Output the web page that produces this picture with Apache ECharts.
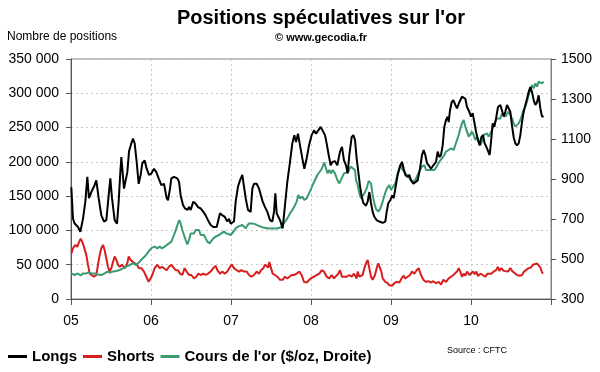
<!DOCTYPE html>
<html><head><meta charset="utf-8">
<script src="https://cdn.jsdelivr.net/npm/echarts@6/dist/echarts.min.js"></script>
<style>html,body{margin:0;padding:0;background:#fff}#c{width:600px;height:372px}</style>
</head><body><div id="c"></div>
<script>
// x = months since January 2005; left values in thousands of positions; gold in $/oz
const yearLabels = ['05','06','07','08','09','10'];
const leftTicks = [0,50,100,150,200,250,300,350];
const rightTicks = [300,500,700,900,1100,1300,1500];

const longs = [[0.05,163],[0.3,117],[0.55,110],[1.05,105],[1.4,98],[1.8,117],[2.15,142],[2.45,178],[2.7,147],[3.05,156],[3.45,164],[3.8,173],[4.15,147],[4.55,122],[4.95,113],[5.3,115],[5.65,151],[5.9,176],[6.15,147],[6.55,115],[6.9,110],[7.15,142],[7.4,185],[7.55,207],[7.8,205],[7.95,161],[8.2,159],[8.45,185],[8.7,215],[9.05,227],[9.3,234],[9.55,227],[9.85,200],[10.15,168],[10.45,181],[10.7,198],[11.05,202],[11.35,190],[11.7,181],[12.05,183],[12.45,190],[12.8,185],[13.15,176],[13.55,166],[13.95,168],[14.35,147],[14.55,144],[14.85,161],[15.05,176],[15.45,178],[15.95,176],[16.2,171],[16.45,151],[16.8,137],[17.1,132],[17.45,130],[17.7,134],[17.95,130],[18.35,142],[18.7,139],[19.05,134],[19.45,132],[19.85,127],[20.2,122],[20.55,115],[20.95,108],[21.35,105],[21.85,105],[22.1,115],[22.35,125],[22.7,122],[23.05,120],[23.45,113],[23.7,117],[23.95,110],[24.2,108],[24.45,113],[24.7,142],[25.05,164],[25.35,173],[25.7,181],[25.95,164],[26.2,147],[26.55,130],[26.95,127],[27.2,161],[27.45,168],[27.85,168],[28.2,161],[28.75,142],[29.1,134],[29.45,127],[29.85,115],[30.2,113],[30.45,127],[30.65,154],[30.85,125],[31.1,120],[31.35,115],[31.55,117],[31.75,103],[32.1,137],[32.45,171],[32.85,200],[33.2,227],[33.5,239],[33.75,229],[34.05,241],[34.35,224],[34.7,205],[35.0,190],[35.35,205],[35.7,224],[36.1,239],[36.45,246],[36.75,241],[37.1,246],[37.45,251],[37.75,249],[38.1,239],[38.35,227],[38.65,210],[38.95,195],[39.25,200],[39.6,201],[39.95,195],[40.35,215],[40.65,222],[40.95,202],[41.25,195],[41.5,183],[41.75,210],[42.1,236],[42.35,239],[42.6,232],[42.85,205],[43.1,185],[43.35,165],[43.6,150],[43.85,140],[44.25,136],[44.5,142],[44.75,156],[45.0,140],[45.25,127],[45.5,120],[45.85,115],[46.25,113],[46.75,111],[47.15,113],[47.35,127],[47.6,140],[47.9,144],[48.15,151],[48.4,147],[48.65,161],[49.0,181],[49.4,195],[49.65,200],[49.9,190],[50.15,181],[50.5,178],[50.75,181],[51.0,173],[51.35,168],[51.65,166],[52.0,173],[52.35,190],[52.65,210],[52.9,217],[53.15,210],[53.4,198],[53.65,195],[54.0,190],[54.35,195],[54.75,200],[55.0,215],[55.25,207],[55.5,210],[55.75,224],[56.0,251],[56.25,261],[56.5,266],[56.65,258],[56.85,275],[57.1,287],[57.35,290],[57.65,283],[57.9,278],[58.25,287],[58.65,295],[58.9,297],[59.15,292],[59.4,280],[59.75,273],[60.0,266],[60.25,271],[60.5,258],[60.75,244],[61.05,232],[61.3,224],[61.55,236],[61.8,239],[62.05,227],[62.3,222],[62.55,224],[62.8,210],[63.05,234],[63.25,256],[63.5,251],[63.75,263],[64.05,280],[64.4,283],[64.65,275],[64.9,266],[65.15,273],[65.4,283],[65.65,283],[65.9,273],[66.15,253],[66.4,236],[66.65,227],[66.9,224],[67.15,227],[67.4,239],[67.65,258],[67.9,273],[68.15,283],[68.4,292],[68.65,302],[68.9,309],[69.15,302],[69.4,290],[69.65,283],[69.9,287],[70.15,297],[70.4,278],[70.65,266],[70.9,266]];

const shorts = [[0.05,66.5],[0.3,74],[0.65,79],[0.95,76],[1.2,83],[1.45,88],[1.7,83],[1.95,76],[2.3,64],[2.55,50],[2.8,37],[3.05,35],[3.45,32.5],[3.8,35],[4.05,50],[4.3,64],[4.55,74],[4.8,79],[5.05,71],[5.3,59],[5.55,47],[5.8,40],[6.05,45],[6.3,54],[6.55,62],[6.8,57],[7.05,50],[7.3,47],[7.65,50],[8.05,45],[8.45,52],[8.65,62],[8.95,57],[9.3,54],[9.55,52],[9.9,50],[10.2,45],[10.55,45],[10.95,40],[11.3,32.5],[11.65,25],[11.9,25],[12.2,35],[12.55,45],[12.95,50],[13.3,45],[13.65,47],[13.95,45],[14.35,42],[14.7,47],[15.05,50],[15.35,46],[15.7,42],[16.05,42],[16.35,37],[16.7,35],[17.05,45],[17.35,40],[17.7,35],[18.05,35],[18.45,30],[18.8,32.5],[19.1,37],[19.45,35],[19.85,37],[20.2,35],[20.55,37],[20.95,40],[21.35,45],[21.7,48.5],[21.95,42],[22.35,37],[22.7,40],[23.05,37],[23.45,40],[23.75,42],[24.1,50.5],[24.45,45],[24.85,42],[25.2,40],[25.55,42],[25.95,40],[26.35,40],[26.7,35],[27.05,32.5],[27.45,35],[27.85,40],[28.2,37],[28.5,42],[28.85,45],[29.1,50],[29.35,52],[29.6,46],[29.75,54],[30.0,45],[30.25,37],[30.6,35],[30.95,32.5],[31.35,28],[31.75,28],[32.1,32.5],[32.45,30],[32.75,32.5],[33.1,35],[33.45,35],[33.85,37],[34.25,40],[34.6,35],[34.95,25],[35.35,24],[35.75,28],[36.1,31],[36.45,32.5],[36.85,35],[37.25,37],[37.6,42],[37.95,40],[38.35,32.5],[38.75,30],[39.1,35],[39.45,30],[39.75,32.5],[40.1,37],[40.35,42],[40.65,32.5],[40.95,35],[41.35,32.5],[41.75,35],[42.1,32.5],[42.45,37],[42.85,30],[43.0,40],[43.25,32.5],[43.5,30],[43.75,35],[44.0,45],[44.25,52],[44.5,57],[44.75,45],[45.0,32.5],[45.25,28],[45.6,35],[45.85,45],[46.1,52],[46.35,50.5],[46.55,40],[46.75,30],[47.15,25],[47.5,23],[47.75,20],[48.15,19.4],[48.5,23],[48.85,25],[49.25,24],[49.65,31],[49.9,34],[50.15,30],[50.5,32.5],[50.85,35],[51.15,40],[51.5,37],[51.85,42],[52.15,45],[52.5,35],[52.85,28],[53.25,25],[53.65,26],[54.0,24],[54.35,26],[54.75,23],[55.15,25],[55.5,21],[55.85,28],[56.25,25],[56.65,30],[57.0,32.5],[57.35,35],[57.65,37],[57.9,40],[58.15,45],[58.4,40],[58.65,32.5],[58.9,37],[59.15,34],[59.4,40],[59.75,35],[60.05,32.5],[60.3,40],[60.55,36],[60.8,40],[61.05,33.5],[61.4,37],[61.75,35],[62.15,32.5],[62.45,37],[62.75,35],[63.05,37],[63.4,40],[63.75,42],[64.05,47],[64.25,41],[64.55,45],[64.9,41],[65.15,42],[65.55,40],[65.9,45],[66.25,40],[66.55,42],[66.9,35],[67.3,34],[67.65,35],[67.95,40],[68.25,42],[68.65,45],[69.0,46],[69.3,50],[69.55,48.5],[69.9,52],[70.15,50.5],[70.4,46],[70.65,39],[70.8,37]];

const gold = [[0.05,428],[0.55,420],[1.05,428],[1.45,417],[1.8,428],[2.3,428],[2.65,433],[3.05,428],[3.55,428],[4.05,423],[4.55,420],[5.05,428],[5.45,437],[5.8,432],[6.3,437],[6.8,440],[7.3,445],[7.8,453],[8.3,462],[8.8,470],[9.3,478],[9.8,470],[10.3,487],[10.65,500],[11.05,512],[11.45,528],[11.8,545],[12.15,557],[12.55,562],[12.95,553],[13.3,562],[13.65,553],[14.05,562],[14.35,562],[14.7,578],[15.05,587],[15.45,620],[15.8,653],[16.05,678],[16.25,695],[16.45,678],[16.7,645],[16.95,620],[17.2,595],[17.45,573],[17.7,595],[17.95,628],[18.2,637],[18.45,628],[18.7,645],[18.95,637],[19.2,645],[19.45,620],[19.7,612],[19.95,620],[20.2,603],[20.45,587],[20.8,578],[21.1,587],[21.35,603],[21.7,612],[21.95,607],[22.2,620],[22.55,628],[22.95,637],[23.3,628],[23.6,637],[23.95,620],[24.2,628],[24.45,640],[24.7,653],[25.05,662],[25.35,653],[25.7,670],[25.95,662],[26.2,653],[26.45,667],[26.7,678],[26.95,687],[27.2,678],[27.45,670],[27.7,673],[28.05,667],[28.45,662],[28.85,657],[29.1,667],[29.6,653],[29.85,650],[30.2,653],[30.5,662],[30.85,653],[31.1,662],[31.45,657],[31.75,662],[32.1,687],[32.45,703],[32.85,728],[33.2,745],[33.5,762],[33.85,787],[34.1,820],[34.35,803],[34.7,812],[35.0,795],[35.35,803],[35.7,828],[35.95,845],[36.25,870],[36.6,895],[36.95,920],[37.25,920],[37.5,945],[37.75,962],[38.0,983],[38.25,953],[38.5,928],[38.75,945],[39.0,928],[39.25,945],[39.6,928],[39.95,895],[40.25,878],[40.6,903],[40.95,928],[41.25,920],[41.6,937],[41.95,962],[42.25,970],[42.6,945],[42.75,895],[43.0,870],[43.25,828],[43.5,803],[43.75,812],[44.0,828],[44.35,853],[44.65,890],[45.0,878],[45.25,820],[45.5,778],[45.75,750],[46.1,737],[46.4,753],[46.75,787],[47.1,828],[47.4,853],[47.75,870],[48.0,845],[48.25,853],[48.65,878],[49.0,928],[49.4,970],[49.75,945],[50.15,928],[50.5,917],[50.85,900],[51.25,887],[51.65,895],[52.0,920],[52.35,945],[52.65,962],[53.0,970],[53.25,945],[53.5,937],[53.85,945],[54.15,953],[54.5,945],[54.85,962],[55.25,987],[55.65,1003],[56.0,1020],[56.25,1037],[56.65,1045],[57.0,1053],[57.4,1045],[57.65,1070],[57.9,1095],[58.15,1120],[58.4,1153],[58.65,1178],[58.9,1195],[59.15,1162],[59.4,1137],[59.65,1112],[59.9,1120],[60.15,1137],[60.4,1120],[60.65,1095],[60.9,1112],[61.15,1087],[61.4,1070],[61.65,1087],[61.9,1120],[62.15,1112],[62.4,1128],[62.65,1112],[62.9,1128],[63.15,1145],[63.4,1170],[63.65,1187],[63.9,1203],[64.15,1212],[64.4,1203],[64.65,1228],[64.9,1220],[65.15,1212],[65.4,1220],[65.65,1237],[65.9,1228],[66.15,1203],[66.4,1178],[66.65,1162],[66.9,1153],[67.15,1178],[67.4,1195],[67.65,1220],[67.9,1245],[68.15,1262],[68.4,1287],[68.65,1320],[68.9,1345],[69.15,1370],[69.4,1353],[69.65,1378],[69.9,1362],[70.15,1387],[70.4,1395],[70.65,1378],[70.9,1387]];

const FONT = '"Liberation Sans", Arial, sans-serif';
const chart = echarts.init(document.getElementById('c'), null, {renderer: 'canvas'});
const fmtLeft = v => v === 0 ? '0' : v + ' 000';
const option = {
  animation: false,
  backgroundColor: '#fff',
  textStyle: {fontFamily: FONT},
  grid: {left: 71, right: 49, top: 59, bottom: 73, show: true, borderColor: '#808080', borderWidth: 1, backgroundColor: 'transparent'},
  legend: {
    left: 8, top: 349, padding: 0, itemGap: 6, itemWidth: 19, itemHeight: 3, icon: 'rect',
    textStyle: {fontFamily: FONT, fontSize: 15, fontWeight: 'bold', color: '#000'},
    data: ['Longs', 'Shorts', "Cours de l'or ($/oz, Droite)"]
  },
  xAxis: {
    type: 'value', min: 0, max: 72, interval: 12,
    axisLine: {lineStyle: {color: '#555', width: 1}},
    axisTick: {show: true, length: 6, lineStyle: {color: '#555'}},
    axisLabel: {fontFamily: FONT, fontSize: 14, color: '#000', margin: 15,
      formatter: v => yearLabels[Math.round(v / 12)] || ''},
    splitLine: {show: true, lineStyle: {color: '#c8c8c8', type: [2, 3], width: 1}}
  },
  yAxis: [
    {type: 'value', min: leftTicks[0], max: leftTicks[leftTicks.length - 1], interval: 50, position: 'left',
      axisLine: {show: true, lineStyle: {color: '#555'}},
      axisTick: {show: true, length: 5, lineStyle: {color: '#555'}},
      axisLabel: {fontFamily: FONT, fontSize: 14, color: '#000', margin: 12, formatter: fmtLeft},
      splitLine: {show: true, lineStyle: {color: '#c8c8c8', type: [2, 3], width: 1}}},
    {type: 'value', min: rightTicks[0], max: rightTicks[rightTicks.length - 1], interval: 200, position: 'right',
      axisLine: {show: true, lineStyle: {color: '#808080'}},
      axisTick: {show: true, length: 5, lineStyle: {color: '#555'}},
      axisLabel: {fontFamily: FONT, fontSize: 14, color: '#000', margin: 10, formatter: v => String(v)},
      splitLine: {show: false}}
  ],
  graphic: [
    {type: 'text', x: 321, y: 8, style: {text: "Positions spéculatives sur l'or", font: 'bold 20px ' + FONT, fill: '#000', align: 'center', verticalAlign: 'top'}},
    {type: 'text', x: 321, y: 32, style: {text: '© www.gecodia.fr', font: 'bold 11px ' + FONT, fill: '#000', align: 'center', verticalAlign: 'top'}},
    {type: 'text', x: 7, y: 31, style: {text: 'Nombre de positions', font: '12px ' + FONT, fill: '#000', align: 'left', verticalAlign: 'top'}},
    {type: 'text', x: 447, y: 346, style: {text: 'Source : CFTC', font: '9px ' + FONT, fill: '#000', align: 'left', verticalAlign: 'top'}}
  ],
  series: [
    {name: 'Longs', type: 'line', yAxisIndex: 0, data: longs, showSymbol: false, symbol: 'none',
      lineStyle: {color: '#000', width: 2}, itemStyle: {color: '#000'}, z: 3},
    {name: 'Shorts', type: 'line', yAxisIndex: 0, data: shorts, showSymbol: false, symbol: 'none',
      lineStyle: {color: '#d71f1f', width: 2}, itemStyle: {color: '#d71f1f'}, z: 2},
    {name: "Cours de l'or ($/oz, Droite)", type: 'line', yAxisIndex: 1, data: gold, showSymbol: false, symbol: 'none',
      lineStyle: {color: '#3a9a70', width: 2}, itemStyle: {color: '#3a9a70'}, z: 2}
  ]
};
chart.setOption(option);
</script></body></html>
